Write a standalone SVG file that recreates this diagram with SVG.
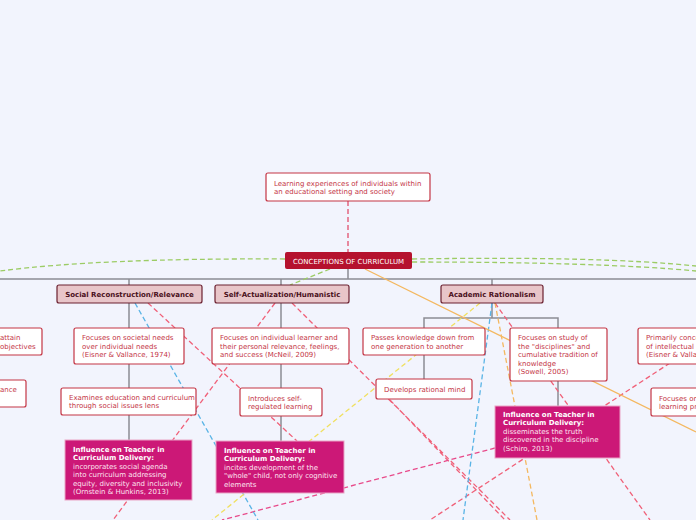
<svg xmlns="http://www.w3.org/2000/svg" width="696" height="520" viewBox="0 0 696 520">
<style>
text{font-family:"DejaVu Sans","Liberation Sans",sans-serif;font-size:7px}
.sub rect{fill:#fff;stroke:#c43545;stroke-width:1.2}
.sub text{fill:#c43545}
.cat rect{fill:#e8c5c9;stroke:#6b2030;stroke-width:1.2}
.cat text{fill:#4a1020;font-weight:bold}
.mag rect{fill:#cc1877;stroke:#e9a3c6}
.mag text{fill:#fce4f0}
.mag .b{font-weight:bold;fill:#fff}
.g{stroke:#8c8c94;stroke-width:1.5;fill:none}
.d{fill:none;stroke-width:1.3;stroke-dasharray:5 3}
</style>
<rect width="696" height="520" fill="#f2f4fd"/>
<g id="connectors">
<path class="g" d="M0 279H696M348 269V279M129 279V440M281 279V441M492 279V318M424 328V318H558V328M424 355V379M558 381V406"/>
<path class="d" stroke="#e0506e" d="M348 201V252"/>
<path class="d" stroke="#9ccc65" d="M285 259Q100 258 0 271M412 259Q600 256 696 266M412 262Q600 262 696 271M330 269L290 285"/>
<path class="d" stroke="#f06078" d="M148 303L297 441M275 303L113 520M292 303L510 520M390 400L505 520M495 303L650 520M670 363L430 520"/>
<path class="d" stroke="#e84a8a" stroke-dasharray="7 3 2 3" d="M495 448L222 520"/>
<path class="d" stroke="#5ab4e6" d="M135 303L258 520M492 303L463 520"/>
<path class="d" stroke="#f0e060" d="M480 303L212 520"/>
<path fill="none" stroke="#f4b860" stroke-width="1.3" d="M365 269L696 432"/>
<path class="d" stroke="#f4b860" d="M495 303L537 520"/>
</g>
<g id="top" class="sub"><rect x="266" y="173" width="164" height="28" rx="2"/><text x="274" y="186">Learning experiences of individuals within</text><text x="274" y="194">an educational setting and society</text></g>
<g id="central"><rect x="285" y="252" width="127" height="17" rx="2" fill="#b5122e"/><text x="348.5" y="263.5" fill="#fff" text-anchor="middle">CONCEPTIONS OF CURRICULUM</text></g>
<g id="social" class="cat"><rect x="57" y="285" width="145" height="18" rx="2"/><text x="129.5" y="297" text-anchor="middle">Social Reconstruction/Relevance</text></g>
<g id="self" class="cat"><rect x="215" y="285" width="134" height="18" rx="2"/><text x="282" y="297" text-anchor="middle">Self-Actualization/Humanistic</text></g>
<g id="academic" class="cat"><rect x="441" y="285" width="102" height="18" rx="2"/><text x="492" y="297" text-anchor="middle">Academic Rationalism</text></g>
<g id="left1" class="sub"><rect x="-10" y="328" width="52" height="27" rx="2"/><text x="0" y="340">attain</text><text x="0" y="349">objectives</text></g>
<g id="left2" class="sub"><rect x="-10" y="380" width="36" height="27" rx="2"/><text x="0" y="392">ance</text></g>
<g id="s1" class="sub"><rect x="74" y="328" width="110" height="36" rx="2"/><text x="82" y="340">Focuses on societal needs</text><text x="82" y="349">over individual needs</text><text x="82" y="357">(Eisner &amp; Vallance, 1974)</text></g>
<g id="s2" class="sub"><rect x="61" y="388" width="135" height="27" rx="2"/><text x="69" y="400">Examines education and curriculum</text><text x="69" y="408">through social issues lens</text></g>
<g id="s3" class="mag"><rect x="65" y="440" width="127" height="60"/><text class="b" x="73" y="452">Influence on Teacher in</text><text class="b" x="73" y="460">Curriculum Delivery:</text><text x="73" y="469">incorporates social agenda</text><text x="73" y="477">into curriculum addressing</text><text x="73" y="486">equity, diversity and inclusivity</text><text x="73" y="494">(Ornstein &amp; Hunkins, 2013)</text></g>
<g id="h1" class="sub"><rect x="212" y="328" width="137" height="36" rx="2"/><text x="220" y="340">Focuses on individual learner and</text><text x="220" y="349">their personal relevance, feelings,</text><text x="220" y="357">and success (McNeil, 2009)</text></g>
<g id="h2" class="sub"><rect x="240" y="388" width="82" height="28" rx="2"/><text x="248" y="401">Introduces self-</text><text x="248" y="409">regulated learning</text></g>
<g id="h3" class="mag"><rect x="216" y="441" width="128" height="52"/><text class="b" x="224" y="453">Influence on Teacher in</text><text class="b" x="224" y="461">Curriculum Delivery:</text><text x="224" y="470">incites development of the</text><text x="224" y="478">"whole" child, not only cognitive</text><text x="224" y="487">elements</text></g>
<g id="a1" class="sub"><rect x="363" y="328" width="122" height="27" rx="2"/><text x="371" y="340">Passes knowledge down from</text><text x="371" y="349">one generation to another</text></g>
<g id="a2" class="sub"><rect x="376" y="379" width="96" height="20" rx="2"/><text x="384" y="391.5">Develops rational mind</text></g>
<g id="a3" class="sub"><rect x="510" y="328" width="97" height="53" rx="2"/><text x="518" y="340">Focuses on study of</text><text x="518" y="349">the "disciplines" and</text><text x="518" y="357">cumulative tradition of</text><text x="518" y="366">knowledge</text><text x="518" y="374">(Sowell, 2005)</text></g>
<g id="a4" class="mag"><rect x="495" y="406" width="125" height="52"/><text class="b" x="503" y="417">Influence on Teacher in</text><text class="b" x="503" y="425">Curriculum Delivery:</text><text x="503" y="434">disseminates the truth</text><text x="503" y="442">discovered in the discipline</text><text x="503" y="451">(Schiro, 2013)</text></g>
<g id="r1" class="sub"><rect x="638" y="328" width="70" height="36" rx="2"/><text x="646" y="340">Primarily concerned</text><text x="646" y="349">of intellectual</text><text x="646" y="357">(Eisner &amp; Vallance</text></g>
<g id="r2" class="sub"><rect x="651" y="388" width="60" height="28" rx="2"/><text x="659" y="401">Focuses on</text><text x="659" y="409">learning pr</text></g>
</svg>
